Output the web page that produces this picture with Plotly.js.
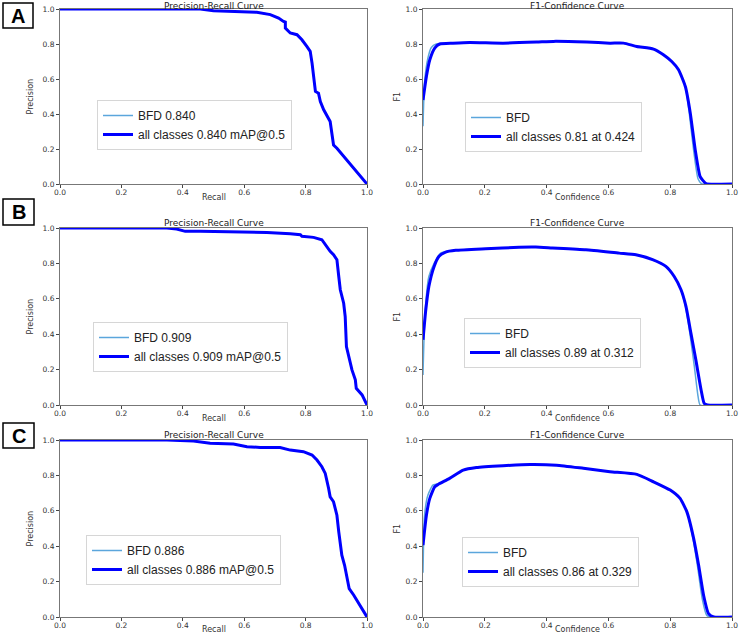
<!DOCTYPE html>
<html>
<head>
<meta charset="utf-8">
<script src="https://cdn.plot.ly/plotly-3.0.1.min.js"></script>
<style>html,body{margin:0;padding:0;background:#fff;}#chart{width:741px;height:633px;}</style>
</head>
<body>
<div id="chart"></div>
<script>
// ---------- Data ----------
const panelLabels = ['A', 'B', 'C'];
const prTitle = 'Precision-Recall Curve';
const f1Title = 'F1-Confidence Curve';
const prXTitle = 'Recall', prYTitle = 'Precision';
const f1XTitle = 'Confidence', f1YTitle = 'F1';
const tickVals = [0, 0.2, 0.4, 0.6, 0.8, 1.0];
const tickText = ['0.0', '0.2', '0.4', '0.6', '0.8', '1.0'];

// Panel A – Precision-Recall
const prA_recall    = [0, 0.457, 0.50, 0.565, 0.641, 0.685, 0.712, 0.728, 0.734, 0.734, 0.750, 0.772, 0.788, 0.804, 0.815, 0.821, 0.826, 0.832, 0.842, 0.848, 0.859, 0.870, 0.880, 0.891, 0.902, 1.0];
const prA_precision = [1.0, 1.0, 0.99, 0.987, 0.981, 0.968, 0.948, 0.929, 0.925, 0.891, 0.863, 0.853, 0.824, 0.786, 0.758, 0.691, 0.615, 0.529, 0.519, 0.471, 0.424, 0.385, 0.357, 0.223, 0.204, 0.0];
// Panel A – F1-Confidence
const f1A_conf = [0, 0.011, 0.022, 0.038, 0.054, 0.097, 0.151, 0.259, 0.368, 0.422, 0.530, 0.605, 0.649, 0.692, 0.746, 0.778, 0.805, 0.827, 0.849, 0.865, 0.881, 0.897, 0.914, 0.919, 1.0];
const f1A_all  = [0.48, 0.615, 0.71, 0.777, 0.80, 0.805, 0.809, 0.805, 0.811, 0.815, 0.811, 0.805, 0.805, 0.786, 0.771, 0.739, 0.70, 0.653, 0.557, 0.405, 0.195, 0.042, 0.004, 0, 0];
const f1A_bfdConf = [0, 0.005, 0.016, 0.027, 0.043, 0.097, 0.151, 0.259, 0.368, 0.422, 0.530, 0.605, 0.649, 0.692, 0.746, 0.778, 0.805, 0.827, 0.849, 0.862, 0.876, 0.890, 0.903, 1.0];
const f1A_bfd     = [0.33, 0.58, 0.72, 0.78, 0.80, 0.805, 0.809, 0.805, 0.811, 0.815, 0.811, 0.805, 0.805, 0.786, 0.771, 0.739, 0.70, 0.653, 0.56, 0.40, 0.19, 0.03, 0, 0];

// Panel B – Precision-Recall
const prB_recall    = [0, 0.348, 0.38, 0.408, 0.457, 0.565, 0.674, 0.750, 0.783, 0.788, 0.826, 0.853, 0.864, 0.880, 0.891, 0.902, 0.908, 0.913, 0.924, 0.929, 0.933, 0.940, 0.951, 0.962, 0.965, 0.984, 1.0];
const prB_precision = [1.0, 1.0, 0.994, 0.981, 0.981, 0.979, 0.975, 0.968, 0.962, 0.953, 0.947, 0.934, 0.906, 0.868, 0.849, 0.821, 0.726, 0.651, 0.575, 0.50, 0.33, 0.274, 0.198, 0.142, 0.094, 0.057, 0.0];
// Panel B – F1-Confidence
const f1B_conf = [0, 0.009, 0.019, 0.036, 0.052, 0.073, 0.106, 0.203, 0.311, 0.365, 0.419, 0.527, 0.635, 0.689, 0.743, 0.786, 0.813, 0.835, 0.851, 0.867, 0.883, 0.900, 0.910, 0.921, 1.0];
const f1B_all  = [0.368, 0.538, 0.67, 0.783, 0.84, 0.864, 0.874, 0.883, 0.891, 0.892, 0.887, 0.877, 0.858, 0.849, 0.821, 0.783, 0.726, 0.651, 0.557, 0.406, 0.255, 0.085, 0.009, 0, 0];
const f1B_bfdConf = [0, 0.006, 0.019, 0.036, 0.057, 0.073, 0.106, 0.203, 0.311, 0.365, 0.419, 0.527, 0.635, 0.689, 0.743, 0.786, 0.813, 0.835, 0.849, 0.864, 0.878, 0.890, 0.897, 1.0];
const f1B_bfd     = [0.17, 0.50, 0.726, 0.80, 0.858, 0.866, 0.874, 0.883, 0.891, 0.892, 0.887, 0.877, 0.858, 0.849, 0.821, 0.783, 0.726, 0.651, 0.56, 0.40, 0.22, 0.05, 0, 0];

// Panel C – Precision-Recall
const prC_recall    = [0, 0.348, 0.435, 0.457, 0.489, 0.565, 0.609, 0.652, 0.717, 0.750, 0.793, 0.821, 0.837, 0.853, 0.864, 0.875, 0.880, 0.891, 0.897, 0.902, 0.908, 0.913, 0.918, 0.927, 0.935, 0.942, 0.957, 1.0];
const prC_precision = [1.0, 1.0, 0.994, 0.987, 0.981, 0.977, 0.962, 0.958, 0.957, 0.943, 0.934, 0.915, 0.887, 0.849, 0.811, 0.726, 0.679, 0.651, 0.613, 0.575, 0.481, 0.425, 0.349, 0.292, 0.217, 0.160, 0.123, 0.0];
// Panel C – F1-Confidence
const f1C_conf = [0, 0.011, 0.022, 0.038, 0.049, 0.086, 0.130, 0.173, 0.259, 0.346, 0.432, 0.519, 0.605, 0.692, 0.746, 0.800, 0.832, 0.854, 0.876, 0.892, 0.908, 0.924, 0.941, 1.0];
const f1C_all  = [0.406, 0.575, 0.67, 0.736, 0.749, 0.783, 0.83, 0.845, 0.855, 0.862, 0.858, 0.840, 0.821, 0.806, 0.764, 0.717, 0.670, 0.594, 0.443, 0.292, 0.123, 0.019, 0, 0];
const f1C_bfdConf = [0, 0.005, 0.016, 0.032, 0.049, 0.086, 0.130, 0.173, 0.259, 0.346, 0.432, 0.519, 0.605, 0.692, 0.746, 0.800, 0.832, 0.854, 0.874, 0.889, 0.904, 0.918, 0.930, 1.0];
const f1C_bfd     = [0.25, 0.575, 0.689, 0.745, 0.752, 0.783, 0.83, 0.845, 0.855, 0.862, 0.858, 0.840, 0.821, 0.806, 0.764, 0.717, 0.670, 0.594, 0.44, 0.28, 0.10, 0.01, 0, 0];

// Legend texts
const prLegends = [['BFD 0.840', 'all classes 0.840 mAP@0.5'], ['BFD 0.909', 'all classes 0.909 mAP@0.5'], ['BFD 0.886', 'all classes 0.886 mAP@0.5']];
const f1Legends = [['BFD', 'all classes 0.81 at 0.424'], ['BFD', 'all classes 0.89 at 0.312'], ['BFD', 'all classes 0.86 at 0.329']];

// ---------- Layout helpers ----------
const W = 741, H = 633;
const px = v => v / W;
const py = v => 1 - v / H;

const colX = [[60, 367], [423, 732]];
const rowY = [[9, 184], [228, 405], [440, 617]];
const titleY = [6, 222.5, 434.5];
const xTitleY = [197, 418, 629];
const yTitleX = [30, 397];
const legendPos = [
  [[97, 100], [465, 102]],
  [[93, 322], [464, 318]],
  [[86, 535], [462, 537]]
];
const labelBoxes = [[3, 3, 33, 28], [3, 199, 34, 225], [3, 423, 34, 448]];

const bfdColor = '#5ba6dc';
const allColor = '#0000ff';
const tickFont = {family: 'DejaVu Sans', size: 7.5, color: '#333'};
const titleFont = {family: 'DejaVu Sans', size: 9, color: '#222'};
const axTitleFont = {family: 'DejaVu Sans', size: 8, color: '#333'};

const prData = [[prA_recall, prA_precision], [prB_recall, prB_precision], [prC_recall, prC_precision]];
const f1Data = [
  [f1A_bfdConf, f1A_bfd, f1A_conf, f1A_all],
  [f1B_bfdConf, f1B_bfd, f1B_conf, f1B_all],
  [f1C_bfdConf, f1C_bfd, f1C_conf, f1C_all]
];

const traces = [];
const layout = {
  width: W, height: H,
  margin: {l: 0, r: 0, t: 0, b: 0},
  paper_bgcolor: '#fff', plot_bgcolor: '#fff',
  showlegend: true,
  annotations: [], shapes: []
};

function axisCfg(domain, anchor, isX) {
  return {
    domain: domain, anchor: anchor, range: [0, 1],
    tickvals: tickVals, ticktext: tickText,
    tickfont: tickFont, ticks: 'outside', ticklen: 3, tickwidth: 1, tickcolor: '#444',
    ticklabelstandoff: isX ? -2 : 0,
    showgrid: false, zeroline: false,
    showline: true, mirror: true, linecolor: '#777', linewidth: 1,
    fixedrange: true
  };
}

function addText(text, x, y, font, angle) {
  layout.annotations.push({
    text: text, xref: 'paper', yref: 'paper', x: px(x), y: py(y),
    xanchor: 'center', yanchor: 'middle', showarrow: false, font: font,
    textangle: angle || 0
  });
}

let idx = 1;
for (let r = 0; r < 3; r++) {
  for (let c = 0; c < 2; c++) {
    const xa = 'x' + (idx === 1 ? '' : idx), ya = 'y' + (idx === 1 ? '' : idx);
    const xk = 'xaxis' + (idx === 1 ? '' : idx), yk = 'yaxis' + (idx === 1 ? '' : idx);
    const lg = 'legend' + (idx === 1 ? '' : idx);
    const xd = [px(colX[c][0]), px(colX[c][1])];
    const yd = [py(rowY[r][1]), py(rowY[r][0])];
    layout[xk] = axisCfg(xd, ya, true);
    layout[yk] = axisCfg(yd, xa, false);
    const lp = legendPos[r][c];
    layout[lg] = {
      x: px(lp[0]), y: py(lp[1]), xanchor: 'left', yanchor: 'top',
      bgcolor: 'rgba(255,255,255,0.9)', bordercolor: '#d6d6d6', borderwidth: 1,
      font: {family: 'Liberation Sans', size: 12, color: '#222'},
      itemwidth: 30, tracegroupgap: 0
    };
    const cx = (colX[c][0] + colX[c][1]) / 2;
    const cy = (rowY[r][0] + rowY[r][1]) / 2;
    addText(c === 0 ? prTitle : f1Title, cx, titleY[r], titleFont);
    addText(c === 0 ? prXTitle : f1XTitle, cx, xTitleY[r], axTitleFont);
    addText(c === 0 ? prYTitle : f1YTitle, yTitleX[c], cy, axTitleFont, -90);

    let bx, by, ax, ay;
    if (c === 0) { [bx, by] = prData[r]; ax = bx; ay = by; }
    else { [bx, by, ax, ay] = f1Data[r]; }
    const names = c === 0 ? prLegends[r] : f1Legends[r];
    const shape = c === 0 ? 'linear' : 'spline';
    traces.push({x: bx, y: by, xaxis: xa, yaxis: ya, mode: 'lines', name: names[0],
      line: {color: bfdColor, width: 1.5, shape: shape, smoothing: 0.5}, legend: lg, hoverinfo: 'skip'});
    traces.push({x: ax, y: ay, xaxis: xa, yaxis: ya, mode: 'lines', name: names[1],
      line: {color: allColor, width: 3, shape: shape, smoothing: 0.5}, legend: lg, hoverinfo: 'skip'});
    idx++;
  }
}

// Panel labels A/B/C
labelBoxes.forEach((b, i) => {
  layout.shapes.push({type: 'rect', xref: 'paper', yref: 'paper',
    x0: px(b[0]), x1: px(b[2]), y0: py(b[3]), y1: py(b[1]),
    line: {color: '#000', width: 1.5}, fillcolor: '#fff'});
  addText('<b>' + panelLabels[i] + '</b>', (b[0] + b[2]) / 2, (b[1] + b[3]) / 2,
    {family: 'Liberation Sans', size: 20, color: '#000'});
});

Plotly.newPlot('chart', traces, layout, {staticPlot: true, displayModeBar: false});
</script>
</body>
</html>
